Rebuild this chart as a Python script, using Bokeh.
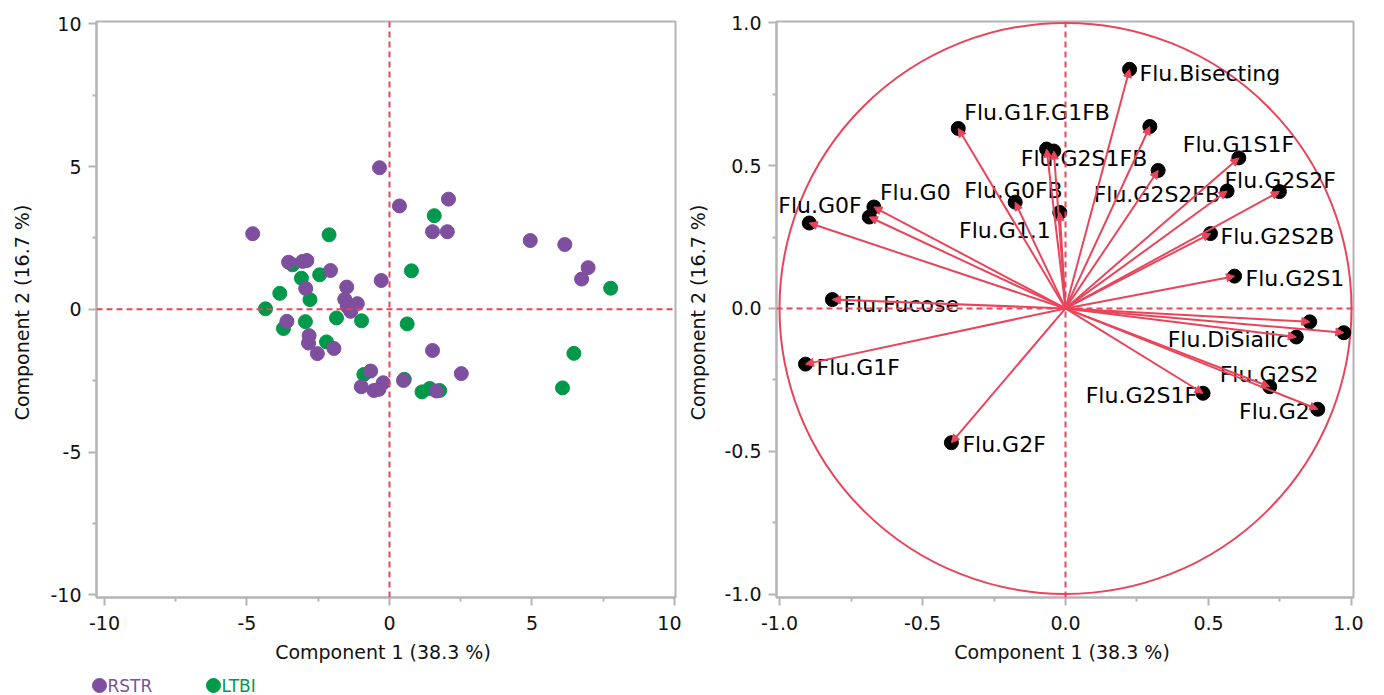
from bokeh.plotting import figure
from bokeh.layouts import row, column
from bokeh.models import (ColumnDataSource, Span, Arrow, NormalHead, FixedTicker,
                          PrintfTickFormatter, Range1d)
from bokeh.embed import file_html
from bokeh.resources import INLINE
from bokeh.core.properties import value

# ---------------- data ----------------
groups = ["RSTR", "LTBI"]

rstr_x = [-0.35, 0.35, 2.07, 1.51, 2.03, -4.80, -3.54, -2.90, -3.05, -2.07, -2.94, -0.29,
          -1.50, -1.57, -1.13, -1.36, -1.48, -3.60, -2.82, -2.84, -2.53, -1.95, 1.51, 2.52,
          -0.66, -0.99, -0.55, -0.37, -0.22, 0.49, 1.64, 4.94, 6.15, 6.97, 6.74]
rstr_y = [4.96, 3.62, 3.86, 2.72, 2.72, 2.65, 1.65, 1.71, 1.68, 1.36, 0.73, 1.01,
          0.78, 0.35, 0.20, -0.07, 0.10, -0.42, -0.92, -1.18, -1.55, -1.37, -1.44, -2.25,
          -2.16, -2.71, -2.84, -2.80, -2.57, -2.49, -2.86, 2.41, 2.27, 1.46, 1.06]

ltbi_x = [1.57, -2.12, -3.40, -2.45, -3.09, 0.77, -3.85, -2.79, -4.35, -1.86, -0.98, -2.95,
          -3.72, 0.62, -2.21, -0.90, 0.52, 1.14, 1.41, 1.76, 7.76, 6.47, 6.07]
ltbi_y = [3.28, 2.61, 1.56, 1.21, 1.09, 1.35, 0.56, 0.34, 0.02, -0.30, -0.40, -0.43,
          -0.67, -0.51, -1.14, -2.28, -2.45, -2.89, -2.77, -2.84, 0.74, -1.54, -2.75]

load_names = ["Flu.Bisecting", "Flu.G1F.G1FB", "", "Flu.G2S1FB", "", "Flu.G0FB", "Flu.G1.1",
              "Flu.G0", "", "Flu.G0F", "Flu.Fucose", "Flu.G1F", "Flu.G2F", "", "Flu.G1S1F",
              "Flu.G2S2FB", "Flu.G2S2F", "Flu.G2S2B", "Flu.G2S1", "", "", "Flu.DiSialic",
              "Flu.G2S2", "Flu.G2S1F", "Flu.G2"]
load_x = [0.224, -0.375, -0.066, -0.041, 0.295, -0.176, -0.020, -0.670, -0.686, -0.896,
          -0.815, -0.909, -0.399, 0.324, 0.606, 0.565, 0.748, 0.507, 0.591, 0.854, 0.973,
          0.807, 0.714, 0.481, 0.882]
load_y = [0.837, 0.630, 0.558, 0.551, 0.637, 0.372, 0.336, 0.355, 0.320, 0.299,
          0.031, -0.195, -0.470, 0.483, 0.527, 0.411, 0.409, 0.262, 0.113, -0.047, -0.085,
          -0.100, -0.274, -0.297, -0.353]

x_title = "Component 1  (38.3 %)"
y_title = "Component 2  (16.7 %)"
score_ticks = [-10, -5, 0, 5, 10]
score_minor = [-7.5, -2.5, 2.5, 7.5]
load_ticks = [-1.0, -0.5, 0.0, 0.5, 1.0]
load_minor = [-0.75, -0.25, 0.25, 0.75]

# ---------------- label layout (pixels) ----------------
label_dx = [10, 6, 0, -33, 0, -51, -9, 6, 0, -31, 11, 11, 11, 0, -56,
            -7, -55, 10, 11, 0, 0, -8, -50, -6, -8]
label_dy = [4, -16, 0, 7, 0, -12, 18, -15, 0, -18, 4.5, 3, 2, 0, -13,
            3, -11, 3, 2, 0, 0, 3, -12, 2, 2]
label_align = ["left", "left", "left", "left", "left", "left", "right", "left", "left", "left",
               "left", "left", "left", "left", "left", "right", "left", "left", "left", "left",
               "left", "right", "left", "right", "right"]

# ---------------- styles ----------------
FONT = "DejaVu Sans"
PURPLE = "#7E4F9E"
GREEN = "#00994C"
RED = "#E8455B"
GRAY = "#B4B4B4"
group_colors = [PURPLE, GREEN]
legend_px = [99, 213]          # legend marker centres (screen px)


def style(p, ticks, minor, fmt, ylab_standoff):
    for ax in (p.xaxis[0], p.yaxis[0]):
        ax.ticker = FixedTicker(ticks=ticks, minor_ticks=minor)
        ax.formatter = PrintfTickFormatter(format=fmt)
        ax.axis_line_color = GRAY
        ax.axis_line_width = 2
        ax.major_tick_line_color = GRAY
        ax.major_tick_line_width = 2
        ax.minor_tick_line_color = GRAY
        ax.minor_tick_line_width = 2
        ax.major_tick_out = 8
        ax.major_tick_in = 0
        ax.minor_tick_out = 4
        ax.minor_tick_in = 0
        ax.major_label_text_font = FONT
        ax.major_label_text_font_size = "19px"
        ax.major_label_text_color = "#111111"
        ax.axis_label_text_font = FONT
        ax.axis_label_text_font_size = "19px"
        ax.axis_label_text_font_style = "normal"
        ax.axis_label_text_color = "#111111"
    p.xaxis[0].major_label_standoff = 10
    p.yaxis[0].major_label_standoff = 7
    p.xaxis[0].axis_label = x_title
    p.yaxis[0].axis_label = y_title
    p.xaxis[0].axis_label_standoff = 8
    p.yaxis[0].axis_label_standoff = ylab_standoff
    p.xgrid.visible = False
    p.ygrid.visible = False
    p.outline_line_color = GRAY
    p.outline_line_width = 2
    p.background_fill_color = "white"
    p.border_fill_color = "white"
    for dim in ("width", "height"):
        p.add_layout(Span(location=0, dimension=dim, line_color=RED, line_width=2,
                          line_dash="6 4"))


# ---------------- score plot ----------------
p1 = figure(frame_width=579, frame_height=576, output_backend="svg", toolbar_location=None,
            x_range=Range1d(-10.28, 10.035), y_range=Range1d(-10.09, 10.08),
            min_border_left=96, min_border_right=6, min_border_top=21, min_border_bottom=70)
style(p1, score_ticks, score_minor, "%d", 14)

src_l = ColumnDataSource(dict(x=ltbi_x, y=ltbi_y))
src_r = ColumnDataSource(dict(x=rstr_x, y=rstr_y))
p1.scatter("x", "y", source=src_l, size=14, fill_color=GREEN, line_color=GREEN)
p1.scatter("x", "y", source=src_r, size=14, fill_color=PURPLE, line_color=PURPLE)

# ---------------- loading plot ----------------
p2 = figure(frame_width=577, frame_height=576, output_backend="svg", toolbar_location=None,
            x_range=Range1d(-1.0105, 1.007), y_range=Range1d(-1.012, 1.0045),
            min_border_left=95, min_border_right=10, min_border_top=21, min_border_bottom=70)
style(p2, load_ticks, load_minor, "%.1f", 12)

p2.ellipse(x=0, y=0, width=2, height=2, fill_color=None, line_color=RED, line_width=2)

src_load = ColumnDataSource(dict(x=load_x, y=load_y, name=load_names, dx=label_dx,
                                 dy=label_dy, align=label_align))
p2.add_layout(Arrow(end=NormalHead(size=8, fill_color=RED, line_color=RED, line_width=1),
                    x_start=0, y_start=0, x_end="x", y_end="y", source=src_load,
                    line_color=RED, line_width=2))
p2.scatter("x", "y", source=src_load, size=14, fill_color="black", line_color="black")
p2.text("x", "y", text="name", source=src_load, x_offset="dx", y_offset="dy",
        text_align="align", text_baseline="middle", text_font=value(FONT),
        text_font_size="22px", text_color="black")

# ---------------- legend strip ----------------
leg = figure(width=320, height=28, output_backend="svg", toolbar_location=None,
             x_range=Range1d(0, 320), y_range=Range1d(0, 28),
             x_axis_location=None, y_axis_location=None, min_border=0)
leg.xgrid.visible = False
leg.ygrid.visible = False
leg.outline_line_color = None
src_leg = ColumnDataSource(dict(x=legend_px, y=[10, 10], name=groups, color=group_colors))
leg.scatter("x", "y", source=src_leg, size=14, fill_color="color", line_color="color")
leg.text("x", "y", text="name", source=src_leg, x_offset=8, text_color="color",
         text_baseline="middle", text_align="left", text_font=value(FONT),
         text_font_size="17px")

layout = column(row(p1, p2, spacing=0), leg, spacing=0)
open("out.html", "w").write(file_html(layout, INLINE))
